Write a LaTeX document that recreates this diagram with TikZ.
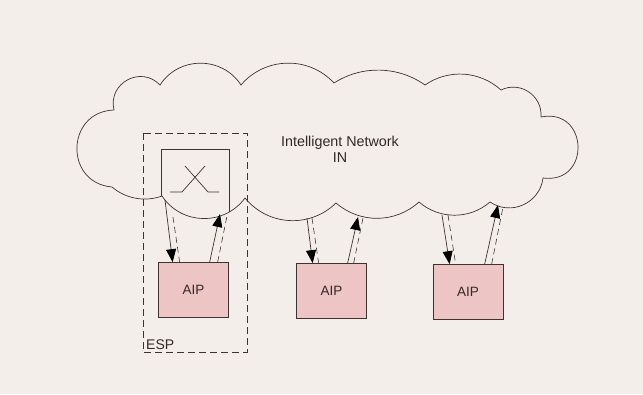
\documentclass[tikz,border=0pt]{standalone}
\usepackage{fontspec}
\setmainfont{Liberation Sans}
\usetikzlibrary{arrows.meta,calc}
\definecolor{paper}{HTML}{F4EEEB}
\definecolor{ink}{HTML}{3E3232}
\definecolor{aipfill}{HTML}{EDC5C4}
\newcommand\mycloudpath{(112,-187) to[bend left=86.5, looseness=1.6] (114,-110)
 to[bend left=75, looseness=1.35] (160,-85)
 to[bend left=57, looseness=1.1] (241,-85)
 to[bend left=48.5, looseness=1.02] (334,-83)
 to[bend left=34, looseness=0.93] (425,-85)
 to[bend left=38.5, looseness=0.96] (501,-90)
 to[bend left=60, looseness=1.14] (541,-117)
 to[bend left=99.5, looseness=2.04] (543,-178)
 to[bend left=58.6, looseness=1.12] (490,-202)
 to[bend left=41, looseness=0.97] (419,-202)
 to[bend left=41.5, looseness=0.98] (336,-203)
 to[bend left=47.5, looseness=1.02] (245,-198)
 to[bend left=55, looseness=1.08] (162,-196)
 to[bend left=30, looseness=0.92] (112,-187) -- cycle}
\begin{document}
\begin{tikzpicture}[x=1pt,y=1pt,
  thin line/.style={draw=ink, line width=0.7pt},
  aip/.style={draw=ink, line width=0.7pt, fill=aipfill, minimum width=70pt, minimum height=55pt,
    inner sep=0pt, font=\fontsize{13.5}{15}\selectfont, text=ink!80!black},
  sig/.style={draw=ink, line width=0.7pt, -{Triangle[length=13pt,width=10pt,fill=black,color=black]}},
  sigdash/.style={draw=ink, line width=0.6pt, dash pattern=on 6pt off 4pt},
  espbox/.style={draw=ink, line width=0.7pt, dash pattern=on 7pt off 4pt}]
\fill[paper] (0,0) rectangle (643,-394);
\useasboundingbox (0,0) rectangle (643,-394);

% cloud
\draw[thin line] \mycloudpath;
% switch box clipped by cloud
\begin{scope}
  \clip \mycloudpath;
  \draw[thin line] (161,-149) rectangle (229,-240);
\end{scope}
\draw[thin line] (170,-192) -- (182,-192) -- (205,-166);
\draw[thin line] (185,-166) -- (208,-192) -- (219,-192);

% ESP box
\draw[espbox] (143,-133) rectangle (247,-352);
\node[anchor=base west, inner sep=0pt, font=\fontsize{14}{16}\selectfont, text=ink!80!black] (esp) at (146,-349) {ESP};

\node[align=center, inner sep=0pt, font=\fontsize{14.3}{16.3}\selectfont, text=ink!80!black] (innet) at (340,-149) {Intelligent Network\\IN};

% AIP boxes
\node[aip] (aip1) at (193.5,-290) {AIP};
\node[aip] (aip2) at (331.5,-291) {AIP};
\node[aip] (aip3) at (468,-292) {AIP};

% cloud-side ends
\coordinate (d1) at (165,-200); \coordinate (d1d) at (173,-217);
\coordinate (u1) at (220,-214); \coordinate (u1d) at (227,-216);
\coordinate (d2) at (307,-218); \coordinate (d2d) at (312,-218);
\coordinate (u2) at (358,-217); \coordinate (u2d) at (363,-218);
\coordinate (d3) at (442,-215); \coordinate (d3d) at (448,-215);
\coordinate (u3) at (498,-205); \coordinate (u3d) at (503,-207);

% AIP 1
\draw[sig] (d1) -- ($(aip1.north west)+(14.5,0)$);
\draw[sigdash] (d1d) -- ($(aip1.north west)+(21.5,0)$);
\draw[sig] ($(aip1.north west)+(51.5,0)$) -- (u1);
\draw[sigdash] ($(aip1.north west)+(59.5,0)$) -- (u1d);
% AIP 2
\draw[sig] (d2) -- ($(aip2.north west)+(16.5,0)$);
\draw[sigdash] (d2d) -- ($(aip2.north west)+(22.5,0)$);
\draw[sig] ($(aip2.north west)+(51.5,0)$) -- (u2);
\draw[sigdash] ($(aip2.north west)+(57.5,0)$) -- (u2d);
% AIP 3
\draw[sig] (d3) -- ($(aip3.north west)+(17,0)$);
\draw[sigdash] (d3d) -- ($(aip3.north west)+(23,0)$);
\draw[sig] ($(aip3.north west)+(52,0)$) -- (u3);
\draw[sigdash] ($(aip3.north west)+(59,0)$) -- (u3d);
\end{tikzpicture}
\end{document}
